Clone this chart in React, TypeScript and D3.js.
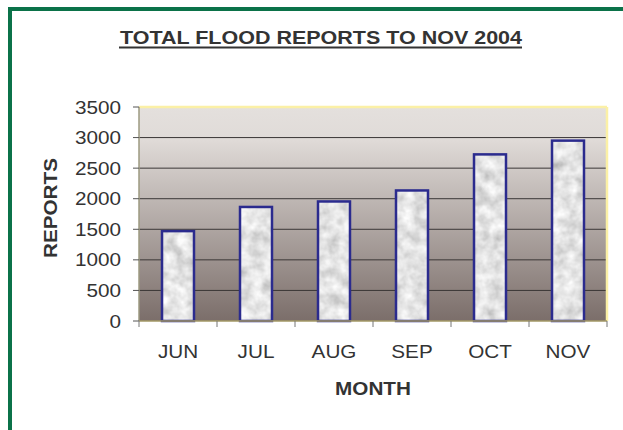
import React from "react";
import * as d3 from "d3";

const months = ["JUN", "JUL", "AUG", "SEP", "OCT", "NOV"];
const reports = [1470, 1865, 1955, 2135, 2725, 2950];
const yTicks = [0, 500, 1000, 1500, 2000, 2500, 3000, 3500];

const W = 623;
const H = 430;
const margin = { top: 107, right: 16, bottom: 109, left: 139 };
const font = "'Liberation Sans', Arial, sans-serif";
const stretch = 1.15;

// text drawn a little wider than Liberation Sans, like the original's font
function Label({ x, y, anchor = "middle", bold = false, rotate = 0, children }: any) {
  return (
    <g transform={`translate(${x},${y}) rotate(${rotate}) scale(${stretch},1)`}>
      <text textAnchor={anchor} fontSize={18} fontWeight={bold ? "bold" : "normal"} fill="#333">
        {children}
      </text>
    </g>
  );
}

export default function App() {
  const innerW = W - margin.left - margin.right;
  const innerH = H - margin.top - margin.bottom;

  const x = d3.scaleBand().domain(months).range([0, innerW]).paddingInner(0.59).paddingOuter(0.295);
  const y = d3.scaleLinear().domain([0, 3500]).range([innerH, 0]);
  const boundaries = d3.range(months.length + 1).map((i) => (innerW / months.length) * i);

  return (
    <svg width={W} height={H} style={{ position: "absolute", left: 0, top: 0 }} fontFamily={font}>
      <defs>
        <linearGradient id="bg" x1="0" y1="0" x2="0" y2="1">
          <stop offset="0" stopColor="#e4e0dd" />
          <stop offset="0.15" stopColor="#e0dbd8" />
          <stop offset="1" stopColor="#7b6e6a" />
        </linearGradient>
        <filter id="marble" x="0" y="0" width="100%" height="100%">
          <feTurbulence type="fractalNoise" baseFrequency="0.08" numOctaves="3" seed="4" result="n" />
          <feColorMatrix in="n" type="saturate" values="0" result="g" />
          <feComponentTransfer in="g" result="t">
            <feFuncR type="linear" slope="0.9" intercept="0.32" />
            <feFuncG type="linear" slope="0.9" intercept="0.32" />
            <feFuncB type="linear" slope="0.9" intercept="0.32" />
            <feFuncA type="linear" slope="0" intercept="1" />
          </feComponentTransfer>
          <feComposite in="t" in2="SourceGraphic" operator="in" />
        </filter>
      </defs>
      <rect x={0} y={0} width={W} height={H} fill="#fff" />
      <rect x={10} y={9} width={W + 20} height={H + 20} fill="none" stroke="#0b7249" strokeWidth={4} />

      <text
        x={120}
        y={43.5}
        textLength={402}
        lengthAdjust="spacingAndGlyphs"
        fontSize={18.5}
        fontWeight="bold"
        fill="#333"
      >
        TOTAL FLOOD REPORTS TO NOV 2004
      </text>
      <line x1={119} x2={522} y1={47.5} y2={47.5} stroke="#333" strokeWidth={2} />

      <g transform={`translate(${margin.left},${margin.top})`}>
        <rect x={0} y={0} width={innerW} height={innerH} fill="url(#bg)" />
        {yTicks.slice(1, -1).map((t) => (
          <line key={t} x1={0} x2={innerW} y1={y(t)} y2={y(t)} stroke="#3a3636" strokeWidth={1} />
        ))}
        <line x1={0} x2={innerW} y1={0} y2={0} stroke="#fbf0a6" strokeWidth={2.5} />
        <line x1={innerW} x2={innerW} y1={0} y2={innerH} stroke="#fbf0a6" strokeWidth={2.5} />

        {months.map((m, i) => (
          <g key={m}>
            <rect
              x={x(m)}
              y={y(reports[i])}
              width={x.bandwidth()}
              height={innerH - y(reports[i])}
              fill="#ccc"
              filter="url(#marble)"
            />
            <rect
              x={x(m)}
              y={y(reports[i])}
              width={x.bandwidth()}
              height={innerH - y(reports[i])}
              fill="none"
              stroke="#2b2b8e"
              strokeWidth={2.5}
            />
          </g>
        ))}

        <line x1={0} x2={0} y1={0} y2={innerH} stroke="#9c9a80" strokeWidth={1.5} />
        <line x1={0} x2={innerW} y1={innerH} y2={innerH} stroke="#a39866" strokeWidth={1.5} />
        {yTicks.map((t) => (
          <g key={t}>
            <line x1={-6} x2={0} y1={y(t)} y2={y(t)} stroke="#555" />
            <Label x={-18} y={y(t) + 6.5} anchor="end">
              {t}
            </Label>
          </g>
        ))}
        {boundaries.map((b, i) => (
          <line key={i} x1={b} x2={b} y1={innerH} y2={innerH + 6} stroke="#777" />
        ))}
        {months.map((m) => (
          <Label key={m} x={(x(m) ?? 0) + x.bandwidth() / 2} y={innerH + 37}>
            {m}
          </Label>
        ))}
        <Label x={innerW / 2} y={innerH + 74} bold>
          MONTH
        </Label>
      </g>

      <Label x={57} y={208} rotate={-90} bold>
        REPORTS
      </Label>
    </svg>
  );
}
